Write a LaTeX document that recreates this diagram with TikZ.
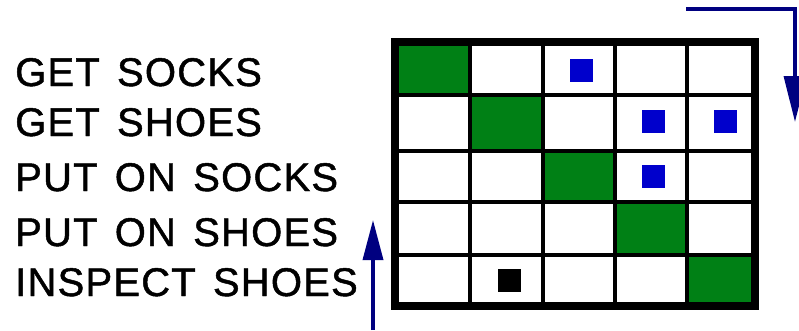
\documentclass[tikz,border=0pt]{standalone}
\usepackage{fontspec}
\setmainfont[FakeBold=1.2,LetterSpace=3,WordSpace=1.4]{Liberation Sans}
\usetikzlibrary{arrows.meta}
\definecolor{cellgreen}{RGB}{0,128,21}
\definecolor{dotblue}{RGB}{0,0,204}
\definecolor{navy}{RGB}{0,0,128}
\tikzset{
  lbl/.style={anchor=base west, inner sep=0pt, font=\fontsize{40}{48}\selectfont},
  greencell/.style={fill=cellgreen, draw=none},
  bluedot/.style={fill=dotblue, draw=none, minimum size=23pt, inner sep=0pt},
  blackdot/.style={fill=black, draw=none, minimum size=23pt, inner sep=0pt},
  gridline/.style={line width=4.5pt},
  frameline/.style={line width=8pt},
  flow/.style={draw=navy, line width=3.5pt, -{Triangle[length=46pt,width=22pt]}},
}
\begin{document}
\begin{tikzpicture}[x=1pt,y=-1pt]
\useasboundingbox (0,0) rectangle (799,330);
% labels
\node[lbl] (l1) at (15,86) {GET SOCKS};
\node[lbl] (l2) at (15,136) {GET SHOES};
\node[lbl] (l3) at (15,191) {PUT ON SOCKS};
\node[lbl] (l4) at (15,246) {PUT ON SHOES};
\node[lbl] (l5) at (15,296) {INSPECT SHOES};
% green diagonal cells
\fill[greencell] (395,42) rectangle (470,95);
\fill[greencell] (470,95) rectangle (543,151);
\fill[greencell] (543,151) rectangle (615,202);
\fill[greencell] (615,202) rectangle (687,255);
\fill[greencell] (687,255) rectangle (755,306);
% grid lines
\foreach \x in {470,543,615,687} \draw[gridline] (\x,42) -- (\x,306);
\foreach \y in {95,151,202,255} \draw[gridline] (395,\y) -- (755,\y);
\draw[frameline] (395,42) rectangle (755,306);
% dots
\node[bluedot] (b13) at (581,70) {};
\node[bluedot] (b24) at (653,121) {};
\node[bluedot] (b25) at (725,121) {};
\node[bluedot] (b34) at (653,176) {};
\node[blackdot] (k52) at (509,280) {};
% arrows
\coordinate (ta) at (686,9);
\coordinate (tb) at (795,9);
\coordinate (tc) at (795,122);
\draw[flow] (ta) -- (tb) -- (tc);
\coordinate (la) at (373,330);
\coordinate (lb) at (373,220);
\draw[flow,-{Triangle[length=40pt,width=20pt]}] (la) -- (lb);
\end{tikzpicture}
\end{document}
